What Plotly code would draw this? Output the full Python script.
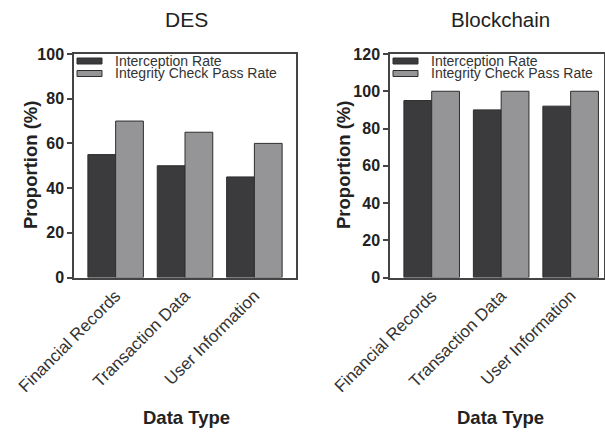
import plotly.graph_objects as go

categories = ["Financial Records", "Transaction Data", "User Information"]
series_names = ["Interception Rate", "Integrity Check Pass Rate"]
des_interception = [55, 50, 45]
des_integrity = [70, 65, 60]
bc_interception = [95, 90, 92]
bc_integrity = [100, 100, 100]
des_ticks = [0, 20, 40, 60, 80, 100]
bc_ticks = [0, 20, 40, 60, 80, 100, 120]

W, H = 605, 432
DARK = "#3b3b3d"
LIGHT = "#959598"
EDGE = "#2e2e2e"
FONT = "Arial, Liberation Sans, Helvetica, sans-serif"

def px(x):
    return x / W

def py(y):
    return 1 - y / H

fig = go.Figure()
fig.add_bar(x=categories, y=des_interception, name=series_names[0], marker=dict(color=DARK, line=dict(color=EDGE, width=1)), xaxis="x", yaxis="y", showlegend=False)
fig.add_bar(x=categories, y=des_integrity, name=series_names[1], marker=dict(color=LIGHT, line=dict(color=EDGE, width=1)), xaxis="x", yaxis="y", showlegend=False)
fig.add_bar(x=categories, y=bc_interception, name=series_names[0], marker=dict(color=DARK, line=dict(color=EDGE, width=1)), xaxis="x2", yaxis="y2", showlegend=False)
fig.add_bar(x=categories, y=bc_integrity, name=series_names[1], marker=dict(color=LIGHT, line=dict(color=EDGE, width=1)), xaxis="x2", yaxis="y2", showlegend=False)

ydom = [py(277.5), py(54)]
axis_common = dict(showline=True, linecolor="#444444", linewidth=1.5, mirror=True, showgrid=False, zeroline=False, automargin=False)
xcommon = dict(**axis_common, tickangle=-45, ticks="", tickfont=dict(family=FONT, size=17, color="#333333"), range=[-0.6, 2.6])
ycommon = dict(**axis_common, ticks="outside", ticklen=5, tickwidth=1.5, tickcolor="#444444",
               tickfont=dict(family=FONT, size=16, color="#222222", weight="bold"))

fig.update_layout(
    width=W, height=H,
    margin=dict(l=0, r=0, t=0, b=0),
    paper_bgcolor="white", plot_bgcolor="white",
    barmode="group", bargap=0.2, bargroupgap=0,
    font=dict(family=FONT),
    xaxis=dict(domain=[px(74), px(296)], anchor="y", **xcommon),
    yaxis=dict(domain=ydom, anchor="x", range=[0, 100], tickvals=des_ticks, **ycommon),
    xaxis2=dict(domain=[px(390), px(604)], anchor="y2", **{**xcommon, "range": [-0.6, 2.48]}),
    yaxis2=dict(domain=ydom, anchor="x2", range=[0, 120], tickvals=bc_ticks, **ycommon),
)

ann = []
shapes = []
for (cx, title, tsize, ytx, dtx, lx) in [(186, "DES", 21, 30, 186, 77), (500, "Blockchain", 20.5, 343, 500, 393)]:
    ann.append(dict(x=px(cx), y=py(20), xref="paper", yref="paper", text=title, showarrow=False,
                    font=dict(family=FONT, size=tsize, color="#222222"), xanchor="center", yanchor="middle"))
    ann.append(dict(x=px(ytx), y=py(165), xref="paper", yref="paper", text="Proportion (%)", showarrow=False, textangle=-90,
                    font=dict(family=FONT, size=18.5, color="#222222", weight="bold"), xanchor="center", yanchor="middle"))
    ann.append(dict(x=px(dtx), y=py(417), xref="paper", yref="paper", text="Data Type", showarrow=False,
                    font=dict(family=FONT, size=18.5, color="#222222", weight="bold"), xanchor="center", yanchor="middle"))
    for i, (name, col) in enumerate(zip(series_names, [DARK, LIGHT])):
        yc = 61 + i * 12.5
        shapes.append(dict(type="rect", xref="paper", yref="paper", x0=px(lx), x1=px(lx + 25), y0=py(yc + 3), y1=py(yc - 3),
                           fillcolor=col, line=dict(color=EDGE, width=1)))
        ann.append(dict(x=px(lx + 36), y=py(yc), xref="paper", yref="paper", text=name, showarrow=False,
                        font=dict(family=FONT, size=14, color="#333333"), xanchor="left", yanchor="middle"))

fig.update_layout(annotations=ann, shapes=shapes)
fig.write_html("out.html", config={"displayModeBar": False},
               post_script="document.body.style.margin='0';document.body.style.overflow='hidden';")
